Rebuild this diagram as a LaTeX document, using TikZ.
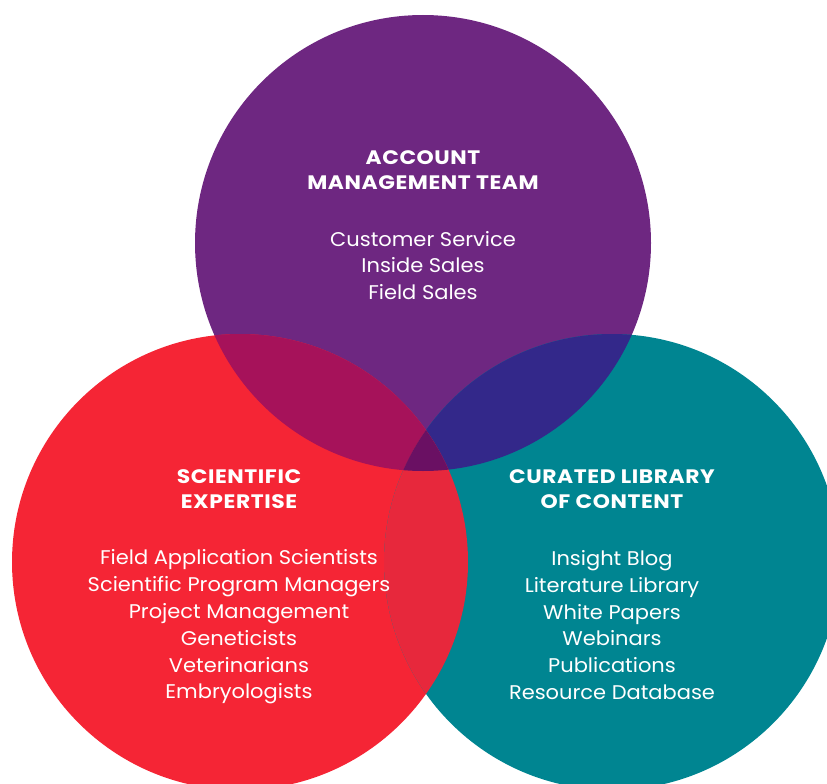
\documentclass[tikz,border=0pt]{standalone}
\usepackage{fontspec}
\setmainfont{Poppins}
\newfontfamily\headfont{Poppins}[FakeStretch=1.12,LetterSpace=3]
\newfontfamily\itemfont{Poppins}[FakeStretch=1.06]
\definecolor{cpurple}{HTML}{6E2781}
\definecolor{cred}{HTML}{F52535}
\definecolor{cteal}{HTML}{008591}
\definecolor{crp}{HTML}{A6125A}
\definecolor{cpt}{HTML}{33288A}
\definecolor{crt}{HTML}{E7283C}
\definecolor{cmid}{HTML}{6A1063}
\tikzset{
  head/.style={text=white, align=center, font=\headfont\bfseries\fontsize{19.5}{25.5}\selectfont},
  items/.style={text=white, align=center, font=\itemfont\fontsize{19.8}{26.8}\selectfont},
}
\begin{document}
\begin{tikzpicture}[x=1pt,y=-1pt]
\useasboundingbox (0,0) rectangle (827,784);
\def\R{228}
\coordinate (pc) at (423,243);
\coordinate (rc) at (240,562);
\coordinate (tc) at (612,562);
\fill[cpurple] (pc) circle (\R);
\fill[cred] (rc) circle (\R);
\fill[cteal] (tc) circle (\R);
\begin{scope}
  \clip (pc) circle (\R);
  \fill[crp] (rc) circle (\R);
  \fill[cpt] (tc) circle (\R);
\end{scope}
\begin{scope}
  \clip (rc) circle (\R);
  \fill[crt] (tc) circle (\R);
  \clip (tc) circle (\R);
  \fill[cmid] (pc) circle (\R);
\end{scope}
\node[head] (acctH) at (423,170) {ACCOUNT\\MANAGEMENT TEAM};
\node[items] (acctL) at (423,265.5) {Customer Service\\Inside Sales\\Field Sales};
\node[head] (sciH) at (239,489) {SCIENTIFIC\\EXPERTISE};
\node[items] (sciL) at (239,627) {Field Application Scientists\\Scientific Program Managers\\Project Management\\Geneticists\\Veterinarians\\Embryologists};
\node[head] (libH) at (612,489) {CURATED LIBRARY\\OF CONTENT};
\node[items] (libL) at (612,625) {Insight Blog\\Literature Library\\White Papers\\Webinars\\Publications\\Resource Database};
\end{tikzpicture}
\end{document}
